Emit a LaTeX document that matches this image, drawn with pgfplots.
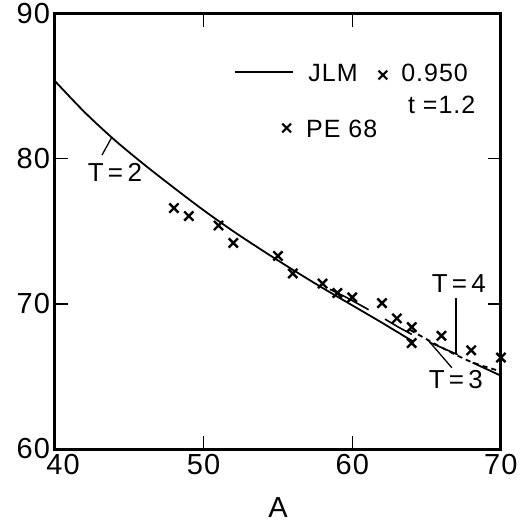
\documentclass[border=0pt]{standalone}
\usepackage{fontspec}
\setmainfont{Liberation Sans}[LetterSpace=4]
\usepackage{pgfplots}
\pgfplotsset{compat=1.18}

\begin{document}
\begin{tikzpicture}
\begin{axis}[
  width=446pt, height=435.5pt, scale only axis,
  xmin=40, xmax=70, ymin=60, ymax=90,
  xtick={40,50,60,70}, ytick={60,70,80,90},
  xticklabels={\hspace*{16pt}40,50,60,70},
  major tick length=13pt,
  line width=3pt,
  tick style={line width=1.3pt, black},
  axis line style={line width=3pt},
  ticklabel style={font=\fontsize{29}{32}\selectfont},
  /pgf/number format/assume math mode=true,
  clip=false,
]
% T=2, main curve
\addplot[line width=1.8pt, smooth] coordinates {
  (40,85.35)(42,83.2)(44,81.3)(46,79.6)(48,78.0)(50,76.45)(52,75.0)
  (54,73.65)(56,72.35)(58,71.1)(60,69.9)(62,68.7)(64.1,67.4)
};
% T=3, short solid pieces just above
\addplot[line width=1.6pt] coordinates {(58.5,71.0)(59.6,70.45)(61.1,69.6)};
\addplot[line width=1.6pt] coordinates {(62.2,68.95)(63.1,68.4)(64.0,67.9)};
\addplot[line width=1.6pt] coordinates {(65.2,67.35)(67.1,66.5)};
\addplot[line width=1.8pt] coordinates {(68.1,65.95)(70,65.05)};
% T=4, dashed
\addplot[line width=1.8pt, dash pattern=on 5pt off 4pt, smooth] coordinates {
  (63.9,68.2)(66,67.0)(68,66.0)(70,65.35)
};
% PE 68
\addplot[only marks, mark=x, mark size=6.5pt, line width=2.4pt] coordinates {
  (48,76.6)(49,76.05)(51,75.4)(52,74.2)(55,73.3)(56,72.1)(58,71.4)
  (59,70.75)(60,70.45)(62,70.05)(63,69.0)(64,68.4)(64,67.3)
  (66,67.8)(68,66.8)(70,66.3)
};

% legend
\draw[line width=1.8pt] (axis cs:52.1,85.97) -- (axis cs:56.0,85.97);
\node[anchor=base west, inner sep=0, font=\fontsize{25}{28}\selectfont] at (axis cs:56.95,85.3) {JLM};
\node[inner sep=0, font=\fontsize{21}{24}\selectfont\bfseries] at (axis cs:62.06,85.7) {×};
\node[anchor=base west, inner sep=0, font=\fontsize{25}{28}\selectfont] at (axis cs:63.2,85.3) {0.950};
\node[anchor=base east, inner sep=0, font=\fontsize{25}{28}\selectfont] at (axis cs:68.38,83.13) {t =1.2};
\node[inner sep=0, font=\fontsize{21}{24}\selectfont\bfseries] at (axis cs:55.6,82.05) {×};
\node[anchor=base west, inner sep=0, font=\fontsize{25}{28}\selectfont] at (axis cs:56.8,81.47) {PE 68};

% curve labels
\node[inner sep=0, font=\fontsize{26}{30}\selectfont] at (axis cs:44.03,79.08) {T\,=\,2};
\draw[line width=1.3pt] (axis cs:43.16,80.25) -- (axis cs:43.83,81.49);
\node[inner sep=0, font=\fontsize{26}{30}\selectfont] at (axis cs:67.17,71.37) {T\,=\,4};
\draw[line width=1.3pt] (axis cs:66.97,70.4) -- (axis cs:66.97,66.6);
\node[inner sep=0, font=\fontsize{26}{30}\selectfont] at (axis cs:66.97,64.76) {T\,=\,3};
\draw[line width=1.3pt] (axis cs:65.1,67.5) -- (axis cs:66.7,65.6);

% axis title
\node[anchor=base, inner sep=0, font=\fontsize{29}{32}\selectfont] at (rel axis cs:0.5,0) [yshift=-68pt] {A};
\end{axis}
\path (current axis.south west) ++(-55pt,-76pt);
\path (current axis.north east) ++(20pt,13.5pt);
\end{tikzpicture}
\end{document}
